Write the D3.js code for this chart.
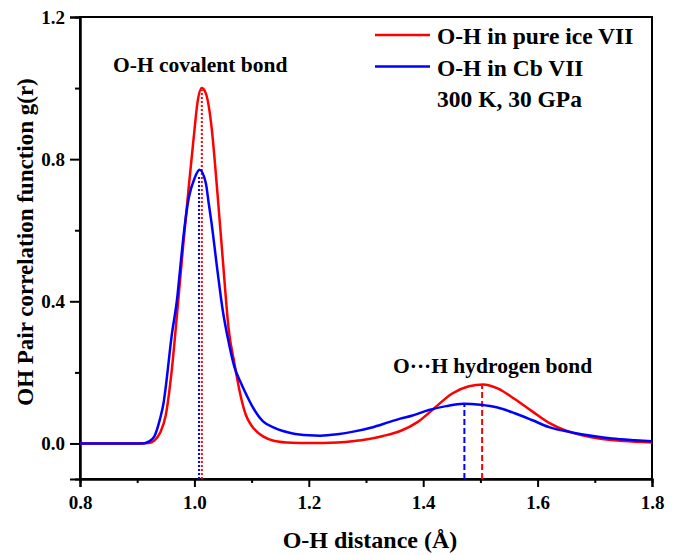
<!DOCTYPE html>
<html>
<head>
<meta charset="utf-8">
<script src="https://cdn.jsdelivr.net/npm/d3@7"></script>
<style>
  body { margin: 0; background: #fff; }
  text { font-family: "Liberation Serif", "Times New Roman", serif; font-weight: bold; fill: #000; }
</style>
</head>
<body>
<svg id="chart" width="679" height="555"></svg>
<script>
// O-H distance (angstrom) and g(r), pure ice VII
var iceR = [0.80, 0.90, 0.92, 0.93, 0.94, 0.95, 0.96, 0.97, 0.98, 0.99, 1.00, 1.005, 1.013, 1.02, 1.025, 1.03, 1.04, 1.05, 1.06, 1.07, 1.08, 1.09, 1.10, 1.11, 1.12, 1.14, 1.17, 1.20, 1.25, 1.28, 1.30, 1.33, 1.36, 1.39, 1.42, 1.45, 1.48, 1.505, 1.53, 1.56, 1.59, 1.62, 1.65, 1.68, 1.71, 1.75, 1.80];
var iceG = [0.0, 0.0, 0.001, 0.008, 0.03, 0.08, 0.20, 0.37, 0.55, 0.72, 0.88, 0.955, 1.0, 0.985, 0.95, 0.89, 0.71, 0.51, 0.32, 0.225, 0.14, 0.08, 0.05, 0.032, 0.02, 0.007, 0.002, 0.001, 0.003, 0.007, 0.011, 0.021, 0.035, 0.060, 0.100, 0.140, 0.161, 0.166, 0.155, 0.125, 0.091, 0.058, 0.036, 0.022, 0.013, 0.007, 0.003];

// same for Cb VII
var cbR = [0.80, 0.91, 0.92, 0.93, 0.94, 0.946, 0.95, 0.96, 0.97, 0.975, 0.98, 0.99, 1.00, 1.009, 1.02, 1.025, 1.03, 1.04, 1.05, 1.058, 1.07, 1.08, 1.09, 1.10, 1.12, 1.14, 1.17, 1.20, 1.22, 1.25, 1.28, 1.31, 1.34, 1.36, 1.38, 1.41, 1.44, 1.47, 1.50, 1.53, 1.56, 1.59, 1.62, 1.66, 1.70, 1.73, 1.77, 1.80];
var cbG = [0.0, 0.0, 0.005, 0.02, 0.07, 0.113, 0.16, 0.30, 0.41, 0.49, 0.57, 0.69, 0.745, 0.77, 0.732, 0.676, 0.62, 0.49, 0.37, 0.30, 0.215, 0.175, 0.14, 0.108, 0.062, 0.044, 0.029, 0.023, 0.022, 0.026, 0.034, 0.045, 0.060, 0.070, 0.078, 0.094, 0.105, 0.112, 0.109, 0.101, 0.085, 0.066, 0.046, 0.031, 0.020, 0.014, 0.009, 0.006];

// peak markers: position and height
var peakR = [1.013, 1.008, 1.503, 1.472];
var peakG = [0.995, 0.752, 0.164, 0.112];
var peakSeries = ["ice", "cb", "ice", "cb"];
var peakStyle = ["dot", "dot", "dash", "dash"];

var xTicks = [0.8, 1.0, 1.2, 1.4, 1.6, 1.8];
var xMinor = [0.9, 1.1, 1.3, 1.5, 1.7];
var yTicks = [0.0, 0.4, 0.8, 1.2];
var yMinor = [0.2, 0.6, 1.0];

var legendNames = ["O-H in pure ice VII", "O-H in Cb VII"];
var colors = { ice: "#ff0000", cb: "#0000ff" };

var svg = d3.select("#chart");
var pLeft = 80, pRight = 652, pTop = 17, pBottom = 479;

var x = d3.scaleLinear().domain([0.8, 1.8]).range([pLeft, pRight]);
var y = d3.scaleLinear().domain([-0.1, 1.2]).range([pBottom, pTop]);

// frame
svg.append("rect")
  .attr("x", pLeft).attr("y", pTop)
  .attr("width", pRight - pLeft).attr("height", pBottom - pTop)
  .attr("fill", "none").attr("stroke", "#000").attr("stroke-width", 2);

// axes
svg.append("g").attr("transform", "translate(0," + pBottom + ")")
  .call(d3.axisBottom(x).tickValues(xTicks).tickFormat(d3.format(".1f")).tickSize(8).tickPadding(9));
svg.append("g").attr("transform", "translate(0," + pBottom + ")")
  .call(d3.axisBottom(x).tickValues(xMinor).tickFormat("").tickSize(4));
svg.append("g").attr("transform", "translate(" + pLeft + ",0)")
  .call(d3.axisLeft(y).tickValues(yTicks).tickFormat(d3.format(".1f")).tickSize(10).tickPadding(5));
svg.append("g").attr("transform", "translate(" + pLeft + ",0)")
  .call(d3.axisLeft(y).tickValues(yMinor).tickFormat("").tickSize(5));

svg.selectAll(".domain").attr("stroke", "#000").attr("stroke-width", 2);
svg.selectAll(".tick line").attr("stroke", "#000").attr("stroke-width", 2);
svg.selectAll(".tick text")
  .style("font-family", "Liberation Serif").style("font-weight", "bold")
  .style("font-size", "19px").attr("fill", "#000");

// peak position lines
var peaks = peakR.map(function(r, i) {
  return { r: r, g: peakG[i], s: peakSeries[i], style: peakStyle[i] };
});
svg.selectAll(".peak").data(peaks).enter().append("line")
  .attr("class", "peak")
  .attr("x1", function(d) { return x(d.r); })
  .attr("x2", function(d) { return x(d.r); })
  .attr("y1", y(-0.1))
  .attr("y2", function(d) { return y(d.g); })
  .attr("stroke", function(d) { return colors[d.s]; })
  .attr("stroke-width", 2)
  .attr("stroke-dasharray", function(d) { return d.style == "dot" ? "2,2" : "6,3"; });

// curves
var line = d3.line()
  .x(function(d) { return x(d[0]); })
  .y(function(d) { return y(d[1]); })
  .curve(d3.curveMonotoneX);

var iceData = iceR.map(function(r, i) { return [r, iceG[i]]; });
var cbData = cbR.map(function(r, i) { return [r, cbG[i]]; });

svg.append("path").datum(iceData)
  .attr("d", line).attr("fill", "none")
  .attr("stroke", colors.ice).attr("stroke-width", 2.5);
svg.append("path").datum(cbData)
  .attr("d", line).attr("fill", "none")
  .attr("stroke", colors.cb).attr("stroke-width", 2.5);

// legend
var legendColors = [colors.ice, colors.cb];
legendNames.forEach(function(name, i) {
  var ly = 35 + i * 31.5;
  svg.append("line").attr("x1", 375).attr("x2", 430).attr("y1", ly).attr("y2", ly)
    .attr("stroke", legendColors[i]).attr("stroke-width", 2.5);
  svg.append("text").attr("x", 437).attr("y", ly + 9).style("font-size", "23.5px").text(name);
});
svg.append("text").attr("x", 437).attr("y", 107).style("font-size", "23.5px").text("300 K, 30 GPa");

// annotations
svg.append("text").attr("x", 113).attr("y", 72).style("font-size", "21.5px").text("O-H covalent bond");
svg.append("text").attr("x", 393).attr("y", 373).style("font-size", "21.5px").text("O\u00B7\u00B7\u00B7H hydrogen bond");

// axis titles
svg.append("text").attr("x", 370).attr("y", 548).attr("text-anchor", "middle")
  .style("font-size", "24px").text("O-H distance (\u00C5)");
svg.append("text").attr("transform", "translate(33,242) rotate(-90)").attr("text-anchor", "middle")
  .style("font-size", "23px").text("OH Pair correlation function g(r)");
</script>
</body>
</html>
